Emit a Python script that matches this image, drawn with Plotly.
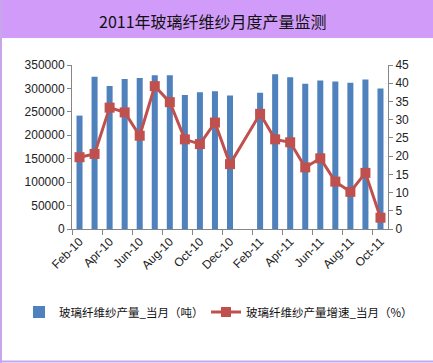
import plotly.graph_objects as go

months = ["Feb-10", "Mar-10", "Apr-10", "May-10", "Jun-10", "Jul-10", "Aug-10",
          "Sep-10", "Oct-10", "Nov-10", "Dec-10", "Jan-11", "Feb-11", "Mar-11",
          "Apr-11", "May-11", "Jun-11", "Jul-11", "Aug-11", "Sep-11", "Oct-11"]
output_t = [242000, 325000, 305000, 320000, 322000, 328000, 328000,
            286000, 292000, 294000, 285000, None, 291000, 330000,
            324000, 310000, 317000, 315000, 312000, 319000, 300000]
growth_pct = [19.7, 20.6, 33.3, 32.0, 25.6, 39.2, 34.8,
              24.6, 23.3, 29.2, 17.8, None, 31.6, 24.6,
              23.8, 16.9, 19.4, 13.0, 10.2, 15.4, 3.1]

title_text = "2011年玻璃纤维纱月度产量监测"
bar_name = "玻璃纤维纱产量_当月（吨）"
line_name = "玻璃纤维纱产量增速_当月（%）"

W, H = 433, 363
ML, MR, MT, MB = 72, 45, 65, 134
PW, PH = W - ML - MR, H - MT - MB

def px_x(p):
    return (p - ML) / PW

def px_y(p):
    return (H - MB - p) / PH

font_family = "Liberation Sans, Noto Sans CJK SC, sans-serif"
cjk_font = "Noto Sans CJK SC, sans-serif"
axis_color = "#868686"
text_color = "#222222"
border_color = "#C7A6EC"

fig = go.Figure()
fig.add_trace(go.Bar(x=months, y=output_t, name=bar_name,
                     marker=dict(color="#4F81BD", line=dict(width=0)),
                     yaxis="y", legend="legend"))
fig.add_trace(go.Scatter(x=months, y=growth_pct, name=line_name, mode="lines+markers",
                         connectgaps=True,
                         line=dict(color="#C0504D", width=3),
                         marker=dict(symbol="square", size=10, color="#C0504D"),
                         yaxis="y2", legend="legend2"))

legend_common = dict(orientation="h", yanchor="middle", xanchor="left",
                     font=dict(family=cjk_font, size=11.5, color="#111111"),
                     itemwidth=30, bgcolor="rgba(0,0,0,0)", borderwidth=0)

fig.update_layout(
    width=W, height=H,
    margin=dict(l=ML, r=MR, t=MT, b=MB, autoexpand=False),
    paper_bgcolor="white", plot_bgcolor="white",
    font=dict(family=font_family, size=12, color=text_color),
    bargap=0.6,
    showlegend=True,
    legend=dict(x=px_x(19), y=px_y(312), **legend_common),
    legend2=dict(x=px_x(206), y=px_y(312), **legend_common),
    xaxis=dict(type="category", categoryorder="array", categoryarray=months,
               tickmode="linear", tick0=0, dtick=2, tickson="boundaries",
               ticks="outside", ticklen=5, tickcolor=axis_color,
               showline=True, linecolor=axis_color, linewidth=1,
               showgrid=False, tickangle=-45,
               tickfont=dict(size=12, color=text_color),
               range=[-0.5, 20.5]),
    yaxis=dict(range=[0, 350000], tickmode="linear", tick0=0, dtick=50000,
               ticks="outside", ticklen=4, tickcolor=axis_color,
               showline=True, linecolor=axis_color, showgrid=False,
               zeroline=False, tickformat="d",
               tickfont=dict(size=12, color=text_color)),
    yaxis2=dict(range=[0, 45], tickmode="linear", tick0=0, dtick=5,
                overlaying="y", side="right",
                ticks="outside", ticklen=4, tickcolor=axis_color,
                showline=True, linecolor=axis_color, showgrid=False,
                zeroline=False,
                tickfont=dict(size=12, color=text_color)),
    shapes=[
        dict(type="rect", xref="paper", yref="paper", layer="below",
             x0=px_x(0), x1=px_x(W), y0=px_y(38), y1=px_y(0),
             fillcolor="#D19CF9", line=dict(width=0)),
        dict(type="line", xref="paper", yref="paper", layer="above",
             x0=px_x(1), x1=px_x(1), y0=px_y(H), y1=px_y(0),
             line=dict(color=border_color, width=2)),
        dict(type="line", xref="paper", yref="paper", layer="above",
             x0=px_x(0), x1=px_x(W), y0=px_y(H - 1.5), y1=px_y(H - 1.5),
             line=dict(color=border_color, width=2)),
    ],
    annotations=[
        dict(text=title_text, xref="paper", yref="paper",
             x=px_x(213), y=px_y(21), xanchor="center", yanchor="middle",
             showarrow=False,
             font=dict(family=cjk_font, size=16, color="#111111")),
    ],
)

fig.write_html("out.html", config={"displayModeBar": False},
               post_script="document.body.style.margin='0';")
